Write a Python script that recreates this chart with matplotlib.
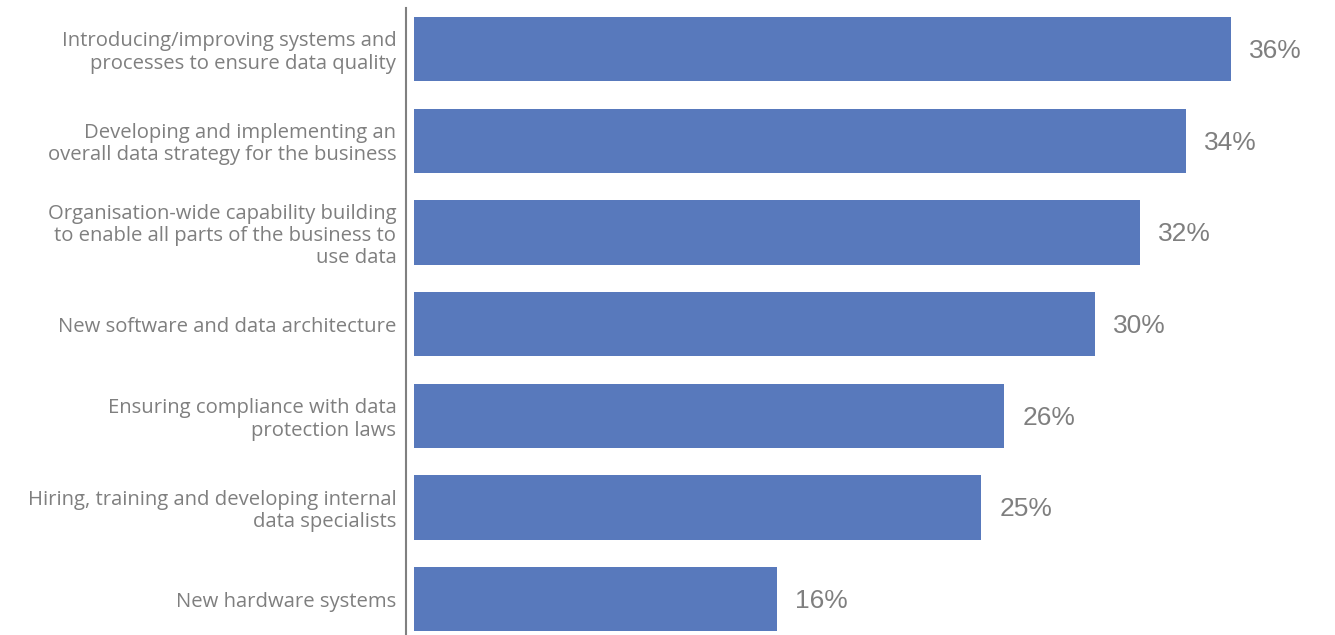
import matplotlib.pyplot as plt

categories = [
    "Introducing/improving systems and\nprocesses to ensure data quality",
    "Developing and implementing an\noverall data strategy for the business",
    "Organisation-wide capability building\nto enable all parts of the business to\nuse data",
    "New software and data architecture",
    "Ensuring compliance with data\nprotection laws",
    "Hiring, training and developing internal\ndata specialists",
    "New hardware systems",
]
values = [36, 34, 32, 30, 26, 25, 16]

bar_color = "#5879bc"
text_color = "#7f7f7f"

fig = plt.figure(figsize=(13.35, 6.35), dpi=100)
ax = fig.add_axes([406 / 1335, 0, 929 / 1335, 627 / 635])

pos = list(range(len(values)))
ax.barh(pos, values, height=0.70, color=bar_color)
for p, v in zip(pos, values):
    ax.text(v + 0.8, p + 0.02, f"{v}%", va="center", ha="left",
            fontsize=19, color=text_color, family="Liberation Sans")

ax.set_xlim(-0.35, 40.58)
ax.set_ylim(6.39, -0.447)
ax.set_yticks(pos)
ax.set_yticklabels(categories, fontsize=14.6, color=text_color,
                   family="Open Sans", linespacing=1.15)
ax.tick_params(axis="y", length=0, pad=7)
ax.set_xticks([])

for side in ["top", "right", "bottom"]:
    ax.spines[side].set_visible(False)
ax.spines["left"].set_color("#808080")
ax.spines["left"].set_linewidth(1.5)

fig.savefig("out.png", dpi=100)
